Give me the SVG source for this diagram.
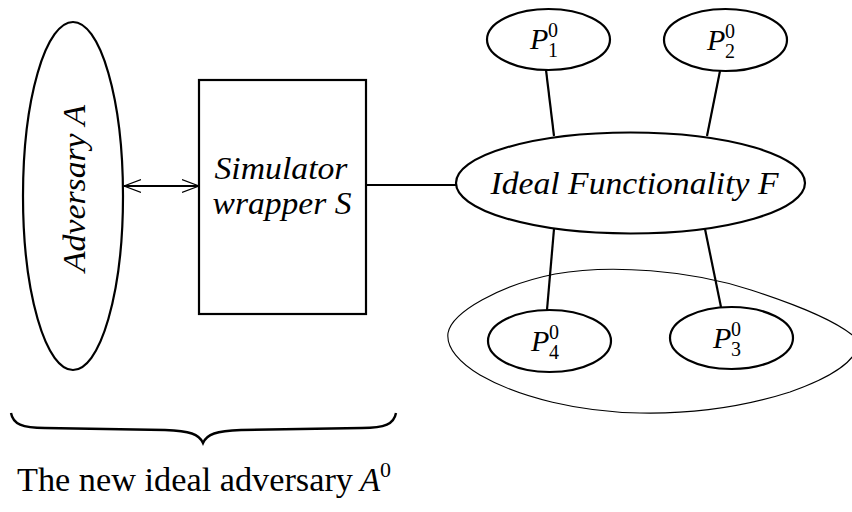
<svg xmlns="http://www.w3.org/2000/svg" width="852" height="512" viewBox="0 0 852 512">
<defs>
<style>
.n{fill:#fff;stroke:#000;stroke-width:2.2}
.c{fill:none;stroke:#000;stroke-width:2.2}
.t{font-family:"Liberation Serif","Times New Roman",serif;font-style:italic;fill:#000}
.r{font-family:"Liberation Serif","Times New Roman",serif;fill:#000}
</style>
<marker id="ah" viewBox="0 0 18 16" refX="17" refY="8" markerWidth="18" markerHeight="16" markerUnits="userSpaceOnUse" orient="auto-start-reverse">
<path d="M0,1.5 L17,8 L0,14.5" fill="none" stroke="#000" stroke-width="1.3"/>
</marker>
</defs>
<rect width="852" height="512" fill="#fff"/>
<g id="corrupted-group">
<path d="M448,333 C452,312 500,285 555,274 C610,264 690,270 751,290 C800,306 840,322 858,340 C860,360 830,378 790,392 C740,408 690,414 640,413 C580,412 520,398 480,375 C460,363 446,348 448,333 Z" fill="none" stroke="#000" stroke-width="1.1"/>
</g>
<g id="connectors">
<line x1="124" y1="186" x2="199" y2="186" class="c" marker-start="url(#ah)" marker-end="url(#ah)"/>
<line x1="366" y1="185" x2="456" y2="185" class="c"/>
<line x1="546" y1="70" x2="554" y2="136" class="c"/>
<line x1="720" y1="71" x2="707" y2="136" class="c"/>
<line x1="554" y1="229" x2="547" y2="310" class="c"/>
<line x1="705" y1="229" x2="721" y2="307" class="c"/>
</g>
<g id="adversary">
<ellipse cx="73" cy="196" rx="50" ry="174" class="n"/>
<text class="t" font-size="32" text-anchor="middle" textLength="167" lengthAdjust="spacingAndGlyphs" transform="translate(85,188.5) rotate(-90)">Adversary A</text>
</g>
<g id="simulator">
<rect x="199" y="80" width="167" height="234" class="n"/>
<text class="t" font-size="31" x="281" y="179" text-anchor="middle" textLength="133" lengthAdjust="spacingAndGlyphs">Simulator</text>
<text class="t" font-size="31" x="282" y="214" text-anchor="middle" textLength="139" lengthAdjust="spacingAndGlyphs">wrapper S</text>
</g>
<g id="functionality">
<ellipse cx="630.5" cy="183" rx="174.5" ry="50.5" class="n"/>
<text class="t" font-size="31" x="634.5" y="194" text-anchor="middle" textLength="288" lengthAdjust="spacingAndGlyphs">Ideal Functionality F</text>
</g>
<g id="p1">
<ellipse cx="548.5" cy="39.5" rx="61.5" ry="30.5" class="n"/>
<text class="t" font-size="30" x="530" y="49">P</text>
<text class="r" font-size="20" x="548" y="57">1</text>
<text class="r" font-size="20" x="548" y="37">0</text>
</g>
<g id="p2">
<ellipse cx="725.5" cy="40" rx="61.5" ry="31" class="n"/>
<text class="t" font-size="30" x="707" y="50">P</text>
<text class="r" font-size="20" x="725" y="58">2</text>
<text class="r" font-size="20" x="725" y="38">0</text>
</g>
<g id="p4">
<ellipse cx="549.5" cy="341" rx="61.5" ry="31" class="n"/>
<text class="t" font-size="30" x="531" y="351">P</text>
<text class="r" font-size="20" x="549" y="359">4</text>
<text class="r" font-size="20" x="549" y="339">0</text>
</g>
<g id="p3">
<ellipse cx="731.5" cy="338" rx="61.5" ry="31" class="n"/>
<text class="t" font-size="30" x="713" y="348">P</text>
<text class="r" font-size="20" x="731" y="356">3</text>
<text class="r" font-size="20" x="731" y="336">0</text>
</g>
<g id="brace">
<path d="M11,413 C13,424 22,428 45,428 L165,430 C190,431 199,434 203,443 C207,434 216,431 241,430 L362,428 C385,428 394,424 396,413" fill="none" stroke="#000" stroke-width="2.4"/>
</g>
<g id="caption">
<text class="r" font-size="33" x="17" y="491" textLength="336" lengthAdjust="spacingAndGlyphs">The new ideal adversary</text>
<text class="t" font-size="33" x="360" y="491">A</text>
<text class="r" font-size="22" x="380" y="477">0</text>
</g>
</svg>
